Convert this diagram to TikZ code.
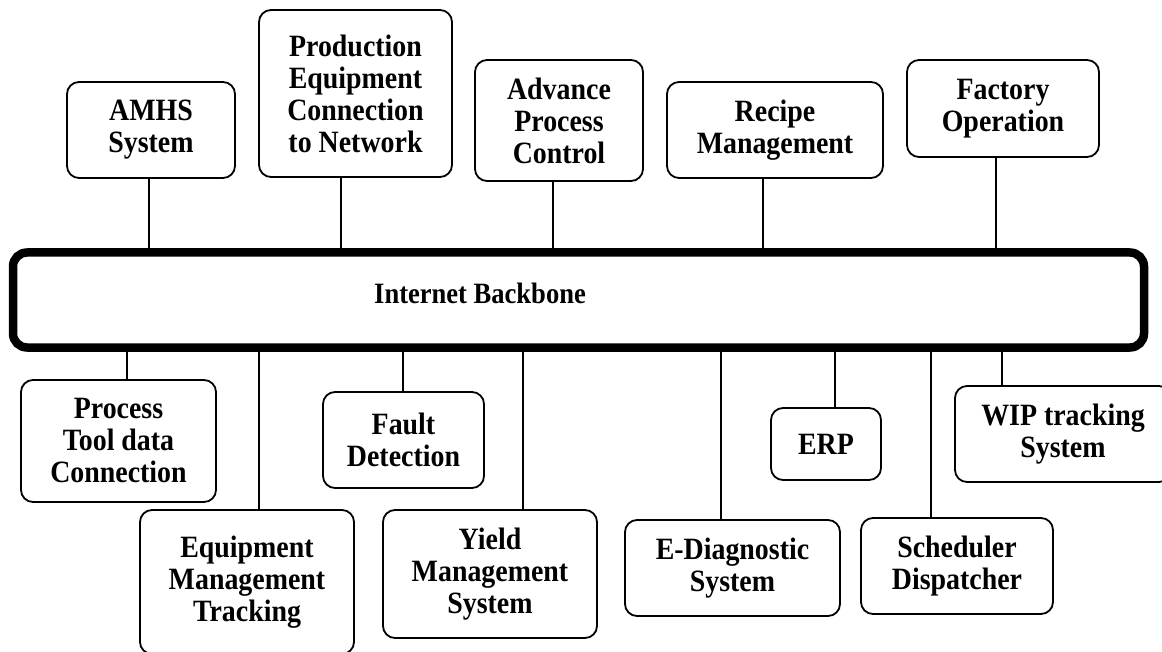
\documentclass[tikz,border=0pt]{standalone}
\usepackage{fontspec}
\setmainfont[FakeStretch=0.9]{Liberation Serif}
\begin{document}
\begin{tikzpicture}[x=1pt,y=-1pt,
  lbl/.style={font=\fontsize{29.5}{31.5}\selectfont\bfseries},
  box/.style={font=\fontsize{31}{32}\selectfont\bfseries, draw, line width=1.8pt, rounded corners=12pt, fill=white, align=center, inner sep=0pt, outer sep=0pt},
  bone/.style={draw, line width=8.5pt, rounded corners=14pt, inner sep=0pt, outer sep=0pt},
  conn/.style={line width=1.8pt}]
\useasboundingbox (0,0) rectangle (1162,652);
% backbone
\node[bone, minimum width=1131pt, minimum height=95pt] (bb) at (578.5,300) {};
\node[lbl, inner sep=0pt] (bbt) at (480,293) {Internet Backbone};
% top boxes
\node[box, minimum width=168pt, minimum height=96pt] (amhs) at (151,130) {AMHS\\System};
\node[box, minimum width=193pt, minimum height=167pt] (prod) at (355.5,93.5) {Production\\Equipment\\Connection\\to Network};
\node[box, minimum width=168pt, minimum height=121pt] (apc) at (559,120.5) {Advance\\Process\\Control};
\node[box, minimum width=216pt, minimum height=96pt] (recipe) at (775,130) {Recipe\\Management};
\node[box, minimum width=192pt, minimum height=97pt] (factory) at (1003,108.5) {Factory\\Operation};
% bottom boxes
\node[box, minimum width=195pt, minimum height=122pt] (process) at (118.5,441) {Process\\Tool data\\Connection};
\node[box, minimum width=214pt, minimum height=144pt] (equip) at (247,582) {Equipment\\Management\\Tracking};
\node[box, minimum width=161pt, minimum height=96pt] (fault) at (403.5,440) {Fault\\Detection};
\node[box, minimum width=214pt, minimum height=128pt] (yield) at (490,574) {Yield\\Management\\System};
\node[box, minimum width=215pt, minimum height=96pt] (ediag) at (732.5,568) {E-Diagnostic\\System};
\node[box, minimum width=110pt, minimum height=72pt] (erp) at (826,444) {ERP};
\node[box, minimum width=192pt, minimum height=96pt] (sched) at (957,566) {Scheduler\\Dispatcher};
\node[box, minimum width=216pt, minimum height=96pt] (wip) at (1063,434) {WIP tracking\\System};
% connectors top
\foreach \n/\d in {amhs/-2, prod/-14.5, apc/-6, recipe/-12, factory/-7}
  \draw[conn] ([xshift=\d pt]\n.south) -- ([xshift=\d pt]\n.south |- bb.north);
% connectors bottom
\foreach \n/\d in {process/8.5, equip/12, fault/-0.5, yield/33, ediag/-11.5, erp/9, sched/-26, wip/-61}
  \draw[conn] ([xshift=\d pt]\n.north) -- ([xshift=\d pt]\n.north |- bb.south);
\end{tikzpicture}
\end{document}
